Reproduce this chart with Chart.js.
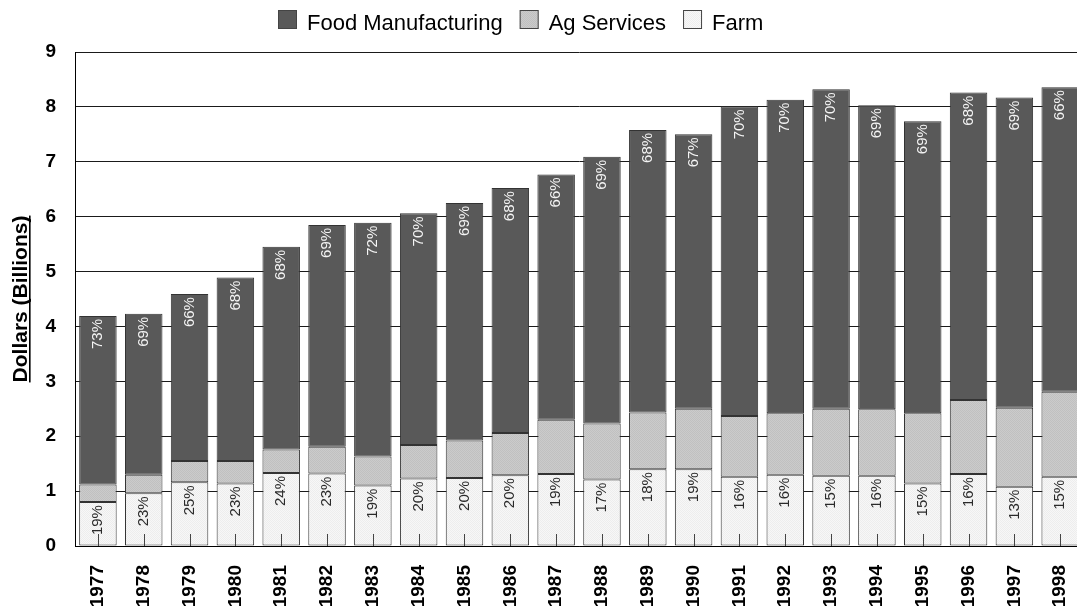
<!DOCTYPE html>
<html>
<head>
<meta charset="utf-8">
<script src="https://cdn.jsdelivr.net/npm/chart.js@4/dist/chart.umd.min.js"></script>
<style>
  html, body { margin: 0; padding: 0; background: #fff; overflow: hidden; }
  #contenedor { width: 1094px; height: 613px; position: relative; }
</style>
</head>
<body>
<div id="contenedor"><canvas id="grbarras"></canvas></div>
<script>
// valores en miles de millones de dólares
const years = ['1977', '1978', '1979', '1980', '1981', '1982', '1983', '1984', '1985', '1986', '1987',
               '1988', '1989', '1990', '1991', '1992', '1993', '1994', '1995', '1996', '1997', '1998'];
const farm = [0.80, 0.96, 1.16, 1.14, 1.33, 1.32, 1.10, 1.23, 1.24, 1.29, 1.31,
              1.21, 1.40, 1.40, 1.26, 1.30, 1.28, 1.28, 1.14, 1.31, 1.08, 1.26];
const agServices = [0.32, 0.34, 0.39, 0.41, 0.43, 0.49, 0.53, 0.61, 0.68, 0.77, 0.99,
                    1.02, 1.03, 1.10, 1.11, 1.12, 1.22, 1.21, 1.28, 1.35, 1.44, 1.55];
const foodMfg = [3.07, 2.93, 3.04, 3.34, 3.69, 4.04, 4.26, 4.22, 4.33, 4.46, 4.47,
                 4.86, 5.15, 5.00, 5.64, 5.71, 5.82, 5.54, 5.32, 5.60, 5.65, 5.55];
const yTicks = [0, 1, 2, 3, 4, 5, 6, 7, 8, 9];

const fuente = '"Liberation Sans", Arial, sans-serif';
Chart.defaults.font.family = fuente;

// trama punteada para los rellenos claros
function trama(base, punto) {
    const c = document.createElement('canvas');
    c.width = 2; c.height = 2;
    const g = c.getContext('2d');
    g.fillStyle = base; g.fillRect(0, 0, 2, 2);
    g.fillStyle = punto; g.fillRect(0, 0, 1, 1); g.fillRect(1, 1, 1, 1);
    return g.createPattern(c, 'repeat');
}

const colorFood = '#595959';
const colorAg = trama('#cbcbcb', '#c0c0c0');
const colorFarm = trama('#f7f7f7', '#ededed');
const borde = '#333333';

function textoVertical(ctx, txt, x, y, color) {
    ctx.save();
    ctx.translate(x, y);
    ctx.rotate(-Math.PI / 2);
    ctx.fillStyle = color;
    ctx.fillText(txt, 0, 0);
    ctx.restore();
}

// porcentajes dentro de las barras y marcas internas del eje x
const etiquetas = {
    id: 'etiquetas',
    afterDatasetsDraw(chart) {
        const ctx = chart.ctx;
        const area = chart.chartArea;
        const xs = chart.scales.x;
        const barrasFarm = chart.getDatasetMeta(0).data;
        const barrasFood = chart.getDatasetMeta(2).data;
        ctx.save();
        ctx.strokeStyle = '#444';
        ctx.lineWidth = 1;
        years.forEach((y, i) => {
            const px = Math.round(xs.getPixelForValue(i)) + 0.5;
            ctx.beginPath();
            ctx.moveTo(px, area.bottom);
            ctx.lineTo(px, area.bottom - 12);
            ctx.stroke();
        });
        ctx.font = '15px ' + fuente;
        ctx.textAlign = 'right';
        ctx.textBaseline = 'middle';
        years.forEach((y, i) => {
            const total = farm[i] + agServices[i] + foodMfg[i];
            const pFood = Math.round(foodMfg[i] / total * 100) + '%';
            const pFarm = Math.round(farm[i] / total * 100) + '%';
            textoVertical(ctx, pFood, barrasFood[i].x, barrasFood[i].y + 3, '#f4f4f4');
            textoVertical(ctx, pFarm, barrasFarm[i].x, barrasFarm[i].y + 3, '#2a2a2a');
        });
        ctx.restore();
    }
};

// leyenda arriba y título del eje y subrayado
const adornos = {
    id: 'adornos',
    afterDraw(chart) {
        const ctx = chart.ctx;
        const area = chart.chartArea;
        ctx.save();
        ctx.font = '22px ' + fuente;
        ctx.textBaseline = 'alphabetic';
        ctx.textAlign = 'left';
        const items = chart.data.datasets.slice().reverse();
        const caja = 19, hueco = 10, sep = 17;
        let ancho = sep * (items.length - 1);
        items.forEach(d => { ancho += caja + hueco + ctx.measureText(d.label).width; });
        let x = Math.round(521 - ancho / 2);
        items.forEach(d => {
            ctx.fillStyle = d.backgroundColor;
            ctx.fillRect(x, 10, caja, caja);
            ctx.strokeStyle = '#444';
            ctx.lineWidth = 1;
            ctx.strokeRect(x + 0.5, 10.5, caja - 1, caja - 1);
            x += caja + hueco;
            ctx.fillStyle = '#000';
            ctx.fillText(d.label, x, 30);
            x += ctx.measureText(d.label).width + sep;
        });

        const titulo = 'Dollars (Billions)';
        ctx.font = 'bold 21px ' + fuente;
        const w = ctx.measureText(titulo).width;
        ctx.translate(27, (area.top + area.bottom) / 2);
        ctx.rotate(-Math.PI / 2);
        ctx.textAlign = 'center';
        ctx.fillStyle = '#000';
        ctx.fillText(titulo, 0, 0);
        ctx.fillRect(-w / 2, 2, w, 1.6);
        ctx.restore();
    }
};

const barra = document.getElementById('grbarras');

new Chart(barra, {
    type: 'bar',
    data: {
        labels: years,
        datasets: [{
            label: 'Farm',
            data: farm,
            backgroundColor: colorFarm
        }, {
            label: 'Ag Services',
            data: agServices,
            backgroundColor: colorAg
        }, {
            label: 'Food Manufacturing',
            data: foodMfg,
            backgroundColor: colorFood
        }].map(d => Object.assign(d, {
            borderColor: borde,
            borderWidth: 1,
            borderSkipped: false,
            barPercentage: 0.818,
            categoryPercentage: 1
        }))
    },
    options: {
        responsive: true,
        maintainAspectRatio: false,
        animation: false,
        layout: { padding: { top: 52, left: 0, right: 0, bottom: 0 } },
        plugins: {
            legend: { display: false },
            tooltip: { enabled: false }
        },
        scales: {
            x: {
                stacked: true,
                grid: { display: false },
                border: { display: true, color: '#000', width: 1 },
                ticks: {
                    color: '#000',
                    font: { size: 19, weight: 'bold' },
                    minRotation: 90,
                    maxRotation: 90,
                    autoSkip: false,
                    padding: 11
                },
                afterFit(s) { s.height = 67; }
            },
            y: {
                stacked: true,
                min: 0,
                max: 9,
                grid: { color: '#1a1a1a', drawTicks: false },
                border: { color: '#000', width: 1 },
                ticks: {
                    color: '#000',
                    font: { size: 19, weight: 'bold' },
                    padding: 19
                },
                afterBuildTicks(s) { s.ticks = yTicks.map(v => ({ value: v })); },
                afterFit(s) { s.width = 75; }
            }
        }
    },
    plugins: [etiquetas, adornos]
});
</script>
</body>
</html>
